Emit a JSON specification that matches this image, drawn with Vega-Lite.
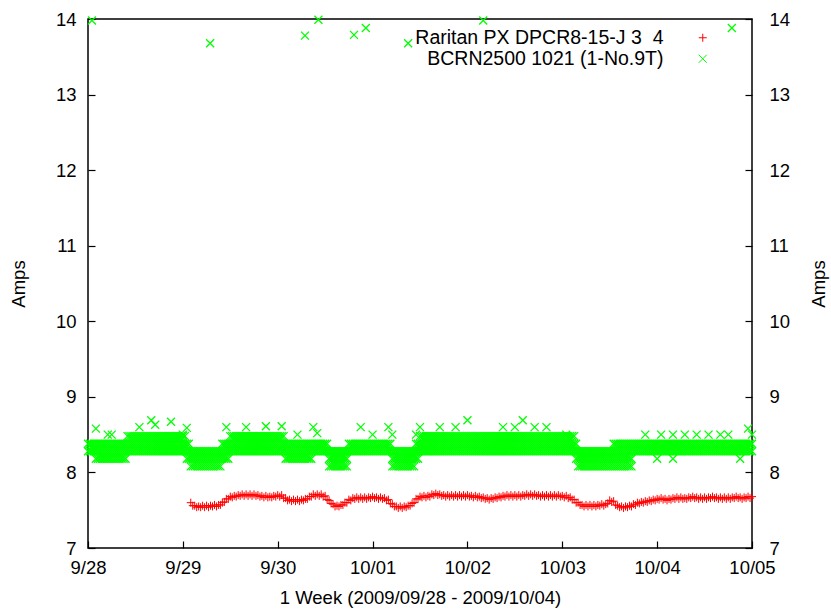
{
"$schema":"https://vega.github.io/schema/vega-lite/v6.json",
"width":664,"height":529,
"autosize":{"type":"none"},
"padding":{"left":88,"top":19,"right":79,"bottom":62},
"background":"#ffffff",
"config":{
 "font":"Liberation Sans",
 "view":{"stroke":"#000000","strokeWidth":1.5},
 "axis":{"domain":false,"grid":false,"labelFont":"Liberation Sans","labelFontSize":18.5,"labelColor":"#000000","tickColor":"#000000","tickSize":-7,"tickWidth":1.2,"titleFont":"Liberation Sans","titleFontSize":18.5,"titleFontWeight":"normal","titleColor":"#000000","labelFlush":false,"labelOverlap":false},
 "legend":{"orient":"none","legendX":605,"legendY":9,"labelAlign":"right","labelOffset":-49,"labelFont":"Liberation Sans","labelFontSize":19.5,"labelColor":"#000000","symbolSize":64,"symbolStrokeWidth":1,"rowPadding":0,"labelLimit":400,"padding":0,"title":null}
},
"datasets":{
"r":[
{"h":26,"a":7.60},{"h":27,"a":7.56},{"h":28,"a":7.55},{"h":29,"a":7.56},{"h":30,"a":7.56},{"h":31,"a":7.56},{"h":32,"a":7.57},{"h":33,"a":7.57},{"h":34,"a":7.60},{"h":35,"a":7.65},
{"h":36,"a":7.68},{"h":37,"a":7.69},{"h":38,"a":7.70},{"h":39,"a":7.71},{"h":40,"a":7.71},{"h":41,"a":7.71},{"h":42,"a":7.71},{"h":43,"a":7.70},{"h":44,"a":7.69},{"h":45,"a":7.69},
{"h":46,"a":7.68},{"h":47,"a":7.69},{"h":48,"a":7.70},{"h":49,"a":7.70},{"h":50,"a":7.66},{"h":51,"a":7.64},{"h":52,"a":7.64},{"h":53,"a":7.64},{"h":54,"a":7.64},{"h":55,"a":7.65},
{"h":56,"a":7.68},{"h":57,"a":7.71},{"h":58,"a":7.71},{"h":59,"a":7.71},{"h":60,"a":7.69},{"h":61,"a":7.63},{"h":62,"a":7.58},{"h":63,"a":7.56},{"h":64,"a":7.57},{"h":65,"a":7.60},
{"h":66,"a":7.64},{"h":67,"a":7.66},{"h":68,"a":7.67},{"h":69,"a":7.67},{"h":70,"a":7.67},{"h":71,"a":7.67},{"h":72,"a":7.68},{"h":73,"a":7.67},{"h":74,"a":7.67},{"h":75,"a":7.66},
{"h":76,"a":7.64},{"h":77,"a":7.58},{"h":78,"a":7.55},{"h":79,"a":7.55},{"h":80,"a":7.55},{"h":81,"a":7.56},{"h":82,"a":7.59},{"h":83,"a":7.65},{"h":84,"a":7.68},{"h":85,"a":7.69},
{"h":86,"a":7.69},{"h":87,"a":7.71},{"h":88,"a":7.72},{"h":89,"a":7.71},{"h":90,"a":7.70},{"h":91,"a":7.70},{"h":92,"a":7.70},{"h":93,"a":7.70},{"h":94,"a":7.70},{"h":95,"a":7.70},
{"h":96,"a":7.70},{"h":97,"a":7.69},{"h":98,"a":7.69},{"h":99,"a":7.68},{"h":100,"a":7.67},{"h":101,"a":7.66},{"h":102,"a":7.66},{"h":103,"a":7.67},{"h":104,"a":7.68},{"h":105,"a":7.69},
{"h":106,"a":7.70},{"h":107,"a":7.70},{"h":108,"a":7.70},{"h":109,"a":7.70},{"h":110,"a":7.70},{"h":111,"a":7.71},{"h":112,"a":7.71},{"h":113,"a":7.71},{"h":114,"a":7.70},{"h":115,"a":7.70},
{"h":116,"a":7.70},{"h":117,"a":7.70},{"h":118,"a":7.70},{"h":119,"a":7.70},{"h":120,"a":7.69},{"h":121,"a":7.69},{"h":122,"a":7.67},{"h":123,"a":7.64},{"h":124,"a":7.60},{"h":125,"a":7.57},
{"h":126,"a":7.57},{"h":127,"a":7.57},{"h":128,"a":7.57},{"h":129,"a":7.57},{"h":130,"a":7.58},{"h":131,"a":7.58},{"h":132,"a":7.63},{"h":133,"a":7.62},{"h":134,"a":7.56},{"h":135,"a":7.55},
{"h":136,"a":7.55},{"h":137,"a":7.56},{"h":138,"a":7.58},{"h":139,"a":7.60},{"h":140,"a":7.61},{"h":141,"a":7.62},{"h":142,"a":7.63},{"h":143,"a":7.64},{"h":144,"a":7.65},{"h":145,"a":7.66},
{"h":146,"a":7.65},{"h":147,"a":7.65},{"h":148,"a":7.66},{"h":149,"a":7.67},{"h":150,"a":7.67},{"h":151,"a":7.66},{"h":152,"a":7.67},{"h":153,"a":7.68},{"h":154,"a":7.67},{"h":155,"a":7.67},
{"h":156,"a":7.67},{"h":157,"a":7.67},{"h":158,"a":7.68},{"h":159,"a":7.67},{"h":160,"a":7.67},{"h":161,"a":7.67},{"h":162,"a":7.67},{"h":163,"a":7.67},{"h":164,"a":7.68},{"h":165,"a":7.67},
{"h":166,"a":7.67},{"h":167,"a":7.68},{"h":168,"a":7.68},
{"h":26.5,"a":7.56},{"h":27.5,"a":7.54},{"h":28.5,"a":7.54},{"h":29.5,"a":7.54},{"h":30.5,"a":7.54},{"h":31.5,"a":7.55},{"h":32.5,"a":7.55},{"h":33.5,"a":7.57},{"h":34.5,"a":7.61},{"h":35.5,"a":7.65},
{"h":36.5,"a":7.67},{"h":37.5,"a":7.68},{"h":38.5,"a":7.69},{"h":39.5,"a":7.69},{"h":40.5,"a":7.69},{"h":41.5,"a":7.69},{"h":42.5,"a":7.69},{"h":43.5,"a":7.68},{"h":44.5,"a":7.67},{"h":45.5,"a":7.67},
{"h":46.5,"a":7.67},{"h":47.5,"a":7.68},{"h":48.5,"a":7.68},{"h":49.5,"a":7.66},{"h":50.5,"a":7.63},{"h":51.5,"a":7.62},{"h":52.5,"a":7.62},{"h":53.5,"a":7.62},{"h":54.5,"a":7.63},{"h":55.5,"a":7.65},
{"h":56.5,"a":7.68},{"h":57.5,"a":7.69},{"h":58.5,"a":7.69},{"h":59.5,"a":7.68},{"h":60.5,"a":7.64},{"h":61.5,"a":7.59},{"h":62.5,"a":7.55},{"h":63.5,"a":7.55},{"h":64.5,"a":7.57},{"h":65.5,"a":7.60},
{"h":66.5,"a":7.63},{"h":67.5,"a":7.65},{"h":68.5,"a":7.65},{"h":69.5,"a":7.65},{"h":70.5,"a":7.65},{"h":71.5,"a":7.66},{"h":72.5,"a":7.66},{"h":73.5,"a":7.65},{"h":74.5,"a":7.65},{"h":75.5,"a":7.63},
{"h":76.5,"a":7.59},{"h":77.5,"a":7.55},{"h":78.5,"a":7.53},{"h":79.5,"a":7.53},{"h":80.5,"a":7.54},{"h":81.5,"a":7.56},{"h":82.5,"a":7.60},{"h":83.5,"a":7.65},{"h":84.5,"a":7.67},{"h":85.5,"a":7.67},
{"h":86.5,"a":7.68},{"h":87.5,"a":7.70},{"h":88.5,"a":7.70},{"h":89.5,"a":7.69},{"h":90.5,"a":7.68},{"h":91.5,"a":7.68},{"h":92.5,"a":7.68},{"h":93.5,"a":7.68},{"h":94.5,"a":7.68},{"h":95.5,"a":7.68},
{"h":96.5,"a":7.68},{"h":97.5,"a":7.67},{"h":98.5,"a":7.67},{"h":99.5,"a":7.66},{"h":100.5,"a":7.65},{"h":101.5,"a":7.64},{"h":102.5,"a":7.65},{"h":103.5,"a":7.66},{"h":104.5,"a":7.67},{"h":105.5,"a":7.68},
{"h":106.5,"a":7.68},{"h":107.5,"a":7.68},{"h":108.5,"a":7.68},{"h":109.5,"a":7.68},{"h":110.5,"a":7.69},{"h":111.5,"a":7.69},{"h":112.5,"a":7.69},{"h":113.5,"a":7.69},{"h":114.5,"a":7.68},{"h":115.5,"a":7.68},
{"h":116.5,"a":7.68},{"h":117.5,"a":7.68},{"h":118.5,"a":7.68},{"h":119.5,"a":7.68},{"h":120.5,"a":7.67},{"h":121.5,"a":7.66},{"h":122.5,"a":7.64},{"h":123.5,"a":7.60},{"h":124.5,"a":7.57},{"h":125.5,"a":7.55},
{"h":126.5,"a":7.55},{"h":127.5,"a":7.55},{"h":128.5,"a":7.55},{"h":129.5,"a":7.56},{"h":130.5,"a":7.56},{"h":131.5,"a":7.59},{"h":132.5,"a":7.61},{"h":133.5,"a":7.57},{"h":134.5,"a":7.54},{"h":135.5,"a":7.53},
{"h":136.5,"a":7.54},{"h":137.5,"a":7.55},{"h":138.5,"a":7.57},{"h":139.5,"a":7.59},{"h":140.5,"a":7.60},{"h":141.5,"a":7.61},{"h":142.5,"a":7.62},{"h":143.5,"a":7.63},{"h":144.5,"a":7.64},{"h":145.5,"a":7.64},
{"h":146.5,"a":7.63},{"h":147.5,"a":7.64},{"h":148.5,"a":7.65},{"h":149.5,"a":7.65},{"h":150.5,"a":7.65},{"h":151.5,"a":7.65},{"h":152.5,"a":7.66},{"h":153.5,"a":7.66},{"h":154.5,"a":7.65},{"h":155.5,"a":7.65},
{"h":156.5,"a":7.65},{"h":157.5,"a":7.66},{"h":158.5,"a":7.66},{"h":159.5,"a":7.65},{"h":160.5,"a":7.65},{"h":161.5,"a":7.65},{"h":162.5,"a":7.65},{"h":163.5,"a":7.66},{"h":164.5,"a":7.66},{"h":165.5,"a":7.65},
{"h":166.5,"a":7.66},{"h":167.5,"a":7.66}
],
"g":[
{"h":0,"a":8.28},{"h":0,"a":8.38},{"h":0.5,"a":8.28},{"h":0.5,"a":8.38},{"h":1,"a":8.28},{"h":1,"a":8.38},{"h":1.5,"a":8.28},{"h":1.5,"a":8.38},
{"h":2,"a":8.18},{"h":2,"a":8.28},{"h":2,"a":8.38},{"h":2.5,"a":8.18},{"h":2.5,"a":8.28},{"h":2.5,"a":8.38},{"h":3,"a":8.18},{"h":3,"a":8.28},{"h":3,"a":8.38},{"h":3.5,"a":8.18},{"h":3.5,"a":8.28},{"h":3.5,"a":8.38},
{"h":4,"a":8.18},{"h":4,"a":8.28},{"h":4,"a":8.38},{"h":4.5,"a":8.18},{"h":4.5,"a":8.28},{"h":4.5,"a":8.38},{"h":5,"a":8.18},{"h":5,"a":8.28},{"h":5,"a":8.38},{"h":5.5,"a":8.18},{"h":5.5,"a":8.28},{"h":5.5,"a":8.38},
{"h":6,"a":8.18},{"h":6,"a":8.28},{"h":6,"a":8.38},{"h":6.5,"a":8.18},{"h":6.5,"a":8.28},{"h":6.5,"a":8.38},{"h":7,"a":8.18},{"h":7,"a":8.28},{"h":7,"a":8.38},{"h":7.5,"a":8.18},{"h":7.5,"a":8.28},{"h":7.5,"a":8.38},
{"h":8,"a":8.18},{"h":8,"a":8.28},{"h":8,"a":8.38},{"h":8.5,"a":8.18},{"h":8.5,"a":8.28},{"h":8.5,"a":8.38},{"h":9,"a":8.18},{"h":9,"a":8.28},{"h":9,"a":8.38},{"h":9.5,"a":8.18},{"h":9.5,"a":8.28},{"h":9.5,"a":8.38},
{"h":10,"a":8.28},{"h":10,"a":8.38},{"h":10,"a":8.48},{"h":10.5,"a":8.28},{"h":10.5,"a":8.38},{"h":10.5,"a":8.48},{"h":11,"a":8.28},{"h":11,"a":8.38},{"h":11,"a":8.48},{"h":11.5,"a":8.28},{"h":11.5,"a":8.38},{"h":11.5,"a":8.48},
{"h":12,"a":8.28},{"h":12,"a":8.38},{"h":12,"a":8.48},{"h":12.5,"a":8.28},{"h":12.5,"a":8.38},{"h":12.5,"a":8.48},{"h":13,"a":8.28},{"h":13,"a":8.38},{"h":13,"a":8.48},{"h":13.5,"a":8.28},{"h":13.5,"a":8.38},{"h":13.5,"a":8.48},
{"h":14,"a":8.28},{"h":14,"a":8.38},{"h":14,"a":8.48},{"h":14.5,"a":8.28},{"h":14.5,"a":8.38},{"h":14.5,"a":8.48},{"h":15,"a":8.28},{"h":15,"a":8.38},{"h":15,"a":8.48},{"h":15.5,"a":8.28},{"h":15.5,"a":8.38},{"h":15.5,"a":8.48},
{"h":16,"a":8.28},{"h":16,"a":8.38},{"h":16,"a":8.48},{"h":16.5,"a":8.28},{"h":16.5,"a":8.38},{"h":16.5,"a":8.48},{"h":17,"a":8.28},{"h":17,"a":8.38},{"h":17,"a":8.48},{"h":17.5,"a":8.28},{"h":17.5,"a":8.38},{"h":17.5,"a":8.48},
{"h":18,"a":8.28},{"h":18,"a":8.38},{"h":18,"a":8.48},{"h":18.5,"a":8.28},{"h":18.5,"a":8.38},{"h":18.5,"a":8.48},{"h":19,"a":8.28},{"h":19,"a":8.38},{"h":19,"a":8.48},{"h":19.5,"a":8.28},{"h":19.5,"a":8.38},{"h":19.5,"a":8.48},
{"h":20,"a":8.28},{"h":20,"a":8.38},{"h":20,"a":8.48},{"h":20.5,"a":8.28},{"h":20.5,"a":8.38},{"h":20.5,"a":8.48},{"h":21,"a":8.28},{"h":21,"a":8.38},{"h":21,"a":8.48},{"h":21.5,"a":8.28},{"h":21.5,"a":8.38},{"h":21.5,"a":8.48},
{"h":22,"a":8.28},{"h":22,"a":8.38},{"h":22,"a":8.48},{"h":22.5,"a":8.28},{"h":22.5,"a":8.38},{"h":22.5,"a":8.48},{"h":23,"a":8.28},{"h":23,"a":8.38},{"h":23,"a":8.48},{"h":23.5,"a":8.28},{"h":23.5,"a":8.38},{"h":23.5,"a":8.48},
{"h":24,"a":8.28},{"h":24,"a":8.38},{"h":24,"a":8.48},{"h":24.5,"a":8.28},{"h":24.5,"a":8.38},{"h":24.5,"a":8.48},
{"h":25,"a":8.18},{"h":25,"a":8.28},{"h":25,"a":8.38},{"h":25.5,"a":8.18},{"h":25.5,"a":8.28},{"h":25.5,"a":8.38},
{"h":26,"a":8.08},{"h":26,"a":8.18},{"h":26,"a":8.28},{"h":26.5,"a":8.08},{"h":26.5,"a":8.18},{"h":26.5,"a":8.28},{"h":27,"a":8.08},{"h":27,"a":8.18},{"h":27,"a":8.28},{"h":27.5,"a":8.08},{"h":27.5,"a":8.18},{"h":27.5,"a":8.28},
{"h":28,"a":8.08},{"h":28,"a":8.18},{"h":28,"a":8.28},{"h":28.5,"a":8.08},{"h":28.5,"a":8.18},{"h":28.5,"a":8.28},{"h":29,"a":8.08},{"h":29,"a":8.18},{"h":29,"a":8.28},{"h":29.5,"a":8.08},{"h":29.5,"a":8.18},{"h":29.5,"a":8.28},
{"h":30,"a":8.08},{"h":30,"a":8.18},{"h":30,"a":8.28},{"h":30.5,"a":8.08},{"h":30.5,"a":8.18},{"h":30.5,"a":8.28},{"h":31,"a":8.08},{"h":31,"a":8.18},{"h":31,"a":8.28},{"h":31.5,"a":8.08},{"h":31.5,"a":8.18},{"h":31.5,"a":8.28},
{"h":32,"a":8.08},{"h":32,"a":8.18},{"h":32,"a":8.28},{"h":32.5,"a":8.08},{"h":32.5,"a":8.18},{"h":32.5,"a":8.28},{"h":33,"a":8.08},{"h":33,"a":8.18},{"h":33,"a":8.28},{"h":33.5,"a":8.08},{"h":33.5,"a":8.18},{"h":33.5,"a":8.28},
{"h":34,"a":8.18},{"h":34,"a":8.28},{"h":34,"a":8.38},{"h":34.5,"a":8.18},{"h":34.5,"a":8.28},{"h":34.5,"a":8.38},{"h":35,"a":8.18},{"h":35,"a":8.28},{"h":35,"a":8.38},{"h":35.5,"a":8.18},{"h":35.5,"a":8.28},{"h":35.5,"a":8.38},
{"h":36,"a":8.28},{"h":36,"a":8.38},{"h":36,"a":8.48},{"h":36.5,"a":8.28},{"h":36.5,"a":8.38},{"h":36.5,"a":8.48},{"h":37,"a":8.28},{"h":37,"a":8.38},{"h":37,"a":8.48},{"h":37.5,"a":8.28},{"h":37.5,"a":8.38},{"h":37.5,"a":8.48},
{"h":38,"a":8.28},{"h":38,"a":8.38},{"h":38,"a":8.48},{"h":38.5,"a":8.28},{"h":38.5,"a":8.38},{"h":38.5,"a":8.48},{"h":39,"a":8.28},{"h":39,"a":8.38},{"h":39,"a":8.48},{"h":39.5,"a":8.28},{"h":39.5,"a":8.38},{"h":39.5,"a":8.48},
{"h":40,"a":8.28},{"h":40,"a":8.38},{"h":40,"a":8.48},{"h":40.5,"a":8.28},{"h":40.5,"a":8.38},{"h":40.5,"a":8.48},{"h":41,"a":8.28},{"h":41,"a":8.38},{"h":41,"a":8.48},{"h":41.5,"a":8.28},{"h":41.5,"a":8.38},{"h":41.5,"a":8.48},
{"h":42,"a":8.28},{"h":42,"a":8.38},{"h":42,"a":8.48},{"h":42.5,"a":8.28},{"h":42.5,"a":8.38},{"h":42.5,"a":8.48},{"h":43,"a":8.28},{"h":43,"a":8.38},{"h":43,"a":8.48},{"h":43.5,"a":8.28},{"h":43.5,"a":8.38},{"h":43.5,"a":8.48},
{"h":44,"a":8.28},{"h":44,"a":8.38},{"h":44,"a":8.48},{"h":44.5,"a":8.28},{"h":44.5,"a":8.38},{"h":44.5,"a":8.48},{"h":45,"a":8.28},{"h":45,"a":8.38},{"h":45,"a":8.48},{"h":45.5,"a":8.28},{"h":45.5,"a":8.38},{"h":45.5,"a":8.48},
{"h":46,"a":8.28},{"h":46,"a":8.38},{"h":46,"a":8.48},{"h":46.5,"a":8.28},{"h":46.5,"a":8.38},{"h":46.5,"a":8.48},{"h":47,"a":8.28},{"h":47,"a":8.38},{"h":47,"a":8.48},{"h":47.5,"a":8.28},{"h":47.5,"a":8.38},{"h":47.5,"a":8.48},
{"h":48,"a":8.28},{"h":48,"a":8.38},{"h":48,"a":8.48},{"h":48.5,"a":8.28},{"h":48.5,"a":8.38},{"h":48.5,"a":8.48},{"h":49,"a":8.28},{"h":49,"a":8.38},{"h":49,"a":8.48},{"h":49.5,"a":8.28},{"h":49.5,"a":8.38},{"h":49.5,"a":8.48},
{"h":50,"a":8.18},{"h":50,"a":8.28},{"h":50,"a":8.38},{"h":50.5,"a":8.18},{"h":50.5,"a":8.28},{"h":50.5,"a":8.38},{"h":51,"a":8.18},{"h":51,"a":8.28},{"h":51,"a":8.38},{"h":51.5,"a":8.18},{"h":51.5,"a":8.28},{"h":51.5,"a":8.38},
{"h":52,"a":8.18},{"h":52,"a":8.28},{"h":52,"a":8.38},{"h":52.5,"a":8.18},{"h":52.5,"a":8.28},{"h":52.5,"a":8.38},{"h":53,"a":8.18},{"h":53,"a":8.28},{"h":53,"a":8.38},{"h":53.5,"a":8.18},{"h":53.5,"a":8.28},{"h":53.5,"a":8.38},
{"h":54,"a":8.18},{"h":54,"a":8.28},{"h":54,"a":8.38},{"h":54.5,"a":8.18},{"h":54.5,"a":8.28},{"h":54.5,"a":8.38},{"h":55,"a":8.18},{"h":55,"a":8.28},{"h":55,"a":8.38},{"h":55.5,"a":8.18},{"h":55.5,"a":8.28},{"h":55.5,"a":8.38},
{"h":56,"a":8.18},{"h":56,"a":8.28},{"h":56,"a":8.38},{"h":56.5,"a":8.18},{"h":56.5,"a":8.28},{"h":56.5,"a":8.38},
{"h":57,"a":8.28},{"h":57,"a":8.38},{"h":57.5,"a":8.28},{"h":57.5,"a":8.38},{"h":58,"a":8.28},{"h":58,"a":8.38},{"h":58.5,"a":8.28},{"h":58.5,"a":8.38},{"h":59,"a":8.28},{"h":59,"a":8.38},{"h":59.5,"a":8.28},{"h":59.5,"a":8.38},
{"h":60,"a":8.28},{"h":60,"a":8.38},{"h":60.5,"a":8.28},{"h":60.5,"a":8.38},
{"h":61,"a":8.08},{"h":61,"a":8.18},{"h":61,"a":8.28},{"h":61.5,"a":8.08},{"h":61.5,"a":8.18},{"h":61.5,"a":8.28},{"h":62,"a":8.08},{"h":62,"a":8.18},{"h":62,"a":8.28},{"h":62.5,"a":8.08},{"h":62.5,"a":8.18},{"h":62.5,"a":8.28},
{"h":63,"a":8.08},{"h":63,"a":8.18},{"h":63,"a":8.28},{"h":63.5,"a":8.08},{"h":63.5,"a":8.18},{"h":63.5,"a":8.28},{"h":64,"a":8.08},{"h":64,"a":8.18},{"h":64,"a":8.28},{"h":64.5,"a":8.08},{"h":64.5,"a":8.18},{"h":64.5,"a":8.28},
{"h":65,"a":8.08},{"h":65,"a":8.18},{"h":65,"a":8.28},{"h":65.5,"a":8.08},{"h":65.5,"a":8.18},{"h":65.5,"a":8.28},
{"h":66,"a":8.28},{"h":66,"a":8.38},{"h":66.5,"a":8.28},{"h":66.5,"a":8.38},{"h":67,"a":8.28},{"h":67,"a":8.38},{"h":67.5,"a":8.28},{"h":67.5,"a":8.38},{"h":68,"a":8.28},{"h":68,"a":8.38},{"h":68.5,"a":8.28},{"h":68.5,"a":8.38},
{"h":69,"a":8.28},{"h":69,"a":8.38},{"h":69.5,"a":8.28},{"h":69.5,"a":8.38},{"h":70,"a":8.28},{"h":70,"a":8.38},{"h":70.5,"a":8.28},{"h":70.5,"a":8.38},{"h":71,"a":8.28},{"h":71,"a":8.38},{"h":71.5,"a":8.28},{"h":71.5,"a":8.38},
{"h":72,"a":8.28},{"h":72,"a":8.38},{"h":72.5,"a":8.28},{"h":72.5,"a":8.38},{"h":73,"a":8.28},{"h":73,"a":8.38},{"h":73.5,"a":8.28},{"h":73.5,"a":8.38},{"h":74,"a":8.28},{"h":74,"a":8.38},{"h":74.5,"a":8.28},{"h":74.5,"a":8.38},
{"h":75,"a":8.28},{"h":75,"a":8.38},{"h":75.5,"a":8.28},{"h":75.5,"a":8.38},{"h":76,"a":8.28},{"h":76,"a":8.38},{"h":76.5,"a":8.28},{"h":76.5,"a":8.38},
{"h":77,"a":8.08},{"h":77,"a":8.18},{"h":77,"a":8.28},{"h":77.5,"a":8.08},{"h":77.5,"a":8.18},{"h":77.5,"a":8.28},{"h":78,"a":8.08},{"h":78,"a":8.18},{"h":78,"a":8.28},{"h":78.5,"a":8.08},{"h":78.5,"a":8.18},{"h":78.5,"a":8.28},
{"h":79,"a":8.08},{"h":79,"a":8.18},{"h":79,"a":8.28},{"h":79.5,"a":8.08},{"h":79.5,"a":8.18},{"h":79.5,"a":8.28},{"h":80,"a":8.08},{"h":80,"a":8.18},{"h":80,"a":8.28},{"h":80.5,"a":8.08},{"h":80.5,"a":8.18},{"h":80.5,"a":8.28},
{"h":81,"a":8.08},{"h":81,"a":8.18},{"h":81,"a":8.28},{"h":81.5,"a":8.08},{"h":81.5,"a":8.18},{"h":81.5,"a":8.28},{"h":82,"a":8.08},{"h":82,"a":8.18},{"h":82,"a":8.28},{"h":82.5,"a":8.08},{"h":82.5,"a":8.18},{"h":82.5,"a":8.28},
{"h":83,"a":8.18},{"h":83,"a":8.28},{"h":83,"a":8.38},{"h":83.5,"a":8.18},{"h":83.5,"a":8.28},{"h":83.5,"a":8.38},
{"h":84,"a":8.28},{"h":84,"a":8.38},{"h":84,"a":8.48},{"h":84.5,"a":8.28},{"h":84.5,"a":8.38},{"h":84.5,"a":8.48},{"h":85,"a":8.28},{"h":85,"a":8.38},{"h":85,"a":8.48},{"h":85.5,"a":8.28},{"h":85.5,"a":8.38},{"h":85.5,"a":8.48},
{"h":86,"a":8.28},{"h":86,"a":8.38},{"h":86,"a":8.48},{"h":86.5,"a":8.28},{"h":86.5,"a":8.38},{"h":86.5,"a":8.48},{"h":87,"a":8.28},{"h":87,"a":8.38},{"h":87,"a":8.48},{"h":87.5,"a":8.28},{"h":87.5,"a":8.38},{"h":87.5,"a":8.48},
{"h":88,"a":8.28},{"h":88,"a":8.38},{"h":88,"a":8.48},{"h":88.5,"a":8.28},{"h":88.5,"a":8.38},{"h":88.5,"a":8.48},{"h":89,"a":8.28},{"h":89,"a":8.38},{"h":89,"a":8.48},{"h":89.5,"a":8.28},{"h":89.5,"a":8.38},{"h":89.5,"a":8.48},
{"h":90,"a":8.28},{"h":90,"a":8.38},{"h":90,"a":8.48},{"h":90.5,"a":8.28},{"h":90.5,"a":8.38},{"h":90.5,"a":8.48},{"h":91,"a":8.28},{"h":91,"a":8.38},{"h":91,"a":8.48},{"h":91.5,"a":8.28},{"h":91.5,"a":8.38},{"h":91.5,"a":8.48},
{"h":92,"a":8.28},{"h":92,"a":8.38},{"h":92,"a":8.48},{"h":92.5,"a":8.28},{"h":92.5,"a":8.38},{"h":92.5,"a":8.48},{"h":93,"a":8.28},{"h":93,"a":8.38},{"h":93,"a":8.48},{"h":93.5,"a":8.28},{"h":93.5,"a":8.38},{"h":93.5,"a":8.48},
{"h":94,"a":8.28},{"h":94,"a":8.38},{"h":94,"a":8.48},{"h":94.5,"a":8.28},{"h":94.5,"a":8.38},{"h":94.5,"a":8.48},{"h":95,"a":8.28},{"h":95,"a":8.38},{"h":95,"a":8.48},{"h":95.5,"a":8.28},{"h":95.5,"a":8.38},{"h":95.5,"a":8.48},
{"h":96,"a":8.28},{"h":96,"a":8.38},{"h":96,"a":8.48},{"h":96.5,"a":8.28},{"h":96.5,"a":8.38},{"h":96.5,"a":8.48},{"h":97,"a":8.28},{"h":97,"a":8.38},{"h":97,"a":8.48},{"h":97.5,"a":8.28},{"h":97.5,"a":8.38},{"h":97.5,"a":8.48},
{"h":98,"a":8.28},{"h":98,"a":8.38},{"h":98,"a":8.48},{"h":98.5,"a":8.28},{"h":98.5,"a":8.38},{"h":98.5,"a":8.48},{"h":99,"a":8.28},{"h":99,"a":8.38},{"h":99,"a":8.48},{"h":99.5,"a":8.28},{"h":99.5,"a":8.38},{"h":99.5,"a":8.48},
{"h":100,"a":8.28},{"h":100,"a":8.38},{"h":100,"a":8.48},{"h":100.5,"a":8.28},{"h":100.5,"a":8.38},{"h":100.5,"a":8.48},{"h":101,"a":8.28},{"h":101,"a":8.38},{"h":101,"a":8.48},{"h":101.5,"a":8.28},{"h":101.5,"a":8.38},{"h":101.5,"a":8.48},
{"h":102,"a":8.28},{"h":102,"a":8.38},{"h":102,"a":8.48},{"h":102.5,"a":8.28},{"h":102.5,"a":8.38},{"h":102.5,"a":8.48},{"h":103,"a":8.28},{"h":103,"a":8.38},{"h":103,"a":8.48},{"h":103.5,"a":8.28},{"h":103.5,"a":8.38},{"h":103.5,"a":8.48},
{"h":104,"a":8.28},{"h":104,"a":8.38},{"h":104,"a":8.48},{"h":104.5,"a":8.28},{"h":104.5,"a":8.38},{"h":104.5,"a":8.48},{"h":105,"a":8.28},{"h":105,"a":8.38},{"h":105,"a":8.48},{"h":105.5,"a":8.28},{"h":105.5,"a":8.38},{"h":105.5,"a":8.48},
{"h":106,"a":8.28},{"h":106,"a":8.38},{"h":106,"a":8.48},{"h":106.5,"a":8.28},{"h":106.5,"a":8.38},{"h":106.5,"a":8.48},{"h":107,"a":8.28},{"h":107,"a":8.38},{"h":107,"a":8.48},{"h":107.5,"a":8.28},{"h":107.5,"a":8.38},{"h":107.5,"a":8.48},
{"h":108,"a":8.28},{"h":108,"a":8.38},{"h":108,"a":8.48},{"h":108.5,"a":8.28},{"h":108.5,"a":8.38},{"h":108.5,"a":8.48},{"h":109,"a":8.28},{"h":109,"a":8.38},{"h":109,"a":8.48},{"h":109.5,"a":8.28},{"h":109.5,"a":8.38},{"h":109.5,"a":8.48},
{"h":110,"a":8.28},{"h":110,"a":8.38},{"h":110,"a":8.48},{"h":110.5,"a":8.28},{"h":110.5,"a":8.38},{"h":110.5,"a":8.48},{"h":111,"a":8.28},{"h":111,"a":8.38},{"h":111,"a":8.48},{"h":111.5,"a":8.28},{"h":111.5,"a":8.38},{"h":111.5,"a":8.48},
{"h":112,"a":8.28},{"h":112,"a":8.38},{"h":112,"a":8.48},{"h":112.5,"a":8.28},{"h":112.5,"a":8.38},{"h":112.5,"a":8.48},{"h":113,"a":8.28},{"h":113,"a":8.38},{"h":113,"a":8.48},{"h":113.5,"a":8.28},{"h":113.5,"a":8.38},{"h":113.5,"a":8.48},
{"h":114,"a":8.28},{"h":114,"a":8.38},{"h":114,"a":8.48},{"h":114.5,"a":8.28},{"h":114.5,"a":8.38},{"h":114.5,"a":8.48},{"h":115,"a":8.28},{"h":115,"a":8.38},{"h":115,"a":8.48},{"h":115.5,"a":8.28},{"h":115.5,"a":8.38},{"h":115.5,"a":8.48},
{"h":116,"a":8.28},{"h":116,"a":8.38},{"h":116,"a":8.48},{"h":116.5,"a":8.28},{"h":116.5,"a":8.38},{"h":116.5,"a":8.48},{"h":117,"a":8.28},{"h":117,"a":8.38},{"h":117,"a":8.48},{"h":117.5,"a":8.28},{"h":117.5,"a":8.38},{"h":117.5,"a":8.48},
{"h":118,"a":8.28},{"h":118,"a":8.38},{"h":118,"a":8.48},{"h":118.5,"a":8.28},{"h":118.5,"a":8.38},{"h":118.5,"a":8.48},{"h":119,"a":8.28},{"h":119,"a":8.38},{"h":119,"a":8.48},{"h":119.5,"a":8.28},{"h":119.5,"a":8.38},{"h":119.5,"a":8.48},
{"h":120,"a":8.28},{"h":120,"a":8.38},{"h":120,"a":8.48},{"h":120.5,"a":8.28},{"h":120.5,"a":8.38},{"h":120.5,"a":8.48},{"h":121,"a":8.28},{"h":121,"a":8.38},{"h":121,"a":8.48},{"h":121.5,"a":8.28},{"h":121.5,"a":8.38},{"h":121.5,"a":8.48},
{"h":122,"a":8.28},{"h":122,"a":8.38},{"h":122,"a":8.48},{"h":122.5,"a":8.28},{"h":122.5,"a":8.38},{"h":122.5,"a":8.48},{"h":123,"a":8.28},{"h":123,"a":8.38},{"h":123,"a":8.48},{"h":123.5,"a":8.18},{"h":123.5,"a":8.28},{"h":123.5,"a":8.38},
{"h":124,"a":8.08},{"h":124,"a":8.18},{"h":124,"a":8.28},{"h":124.5,"a":8.08},{"h":124.5,"a":8.18},{"h":124.5,"a":8.28},{"h":125,"a":8.08},{"h":125,"a":8.18},{"h":125,"a":8.28},{"h":125.5,"a":8.08},{"h":125.5,"a":8.18},{"h":125.5,"a":8.28},
{"h":126,"a":8.08},{"h":126,"a":8.18},{"h":126,"a":8.28},{"h":126.5,"a":8.08},{"h":126.5,"a":8.18},{"h":126.5,"a":8.28},{"h":127,"a":8.08},{"h":127,"a":8.18},{"h":127,"a":8.28},{"h":127.5,"a":8.08},{"h":127.5,"a":8.18},{"h":127.5,"a":8.28},
{"h":128,"a":8.08},{"h":128,"a":8.18},{"h":128,"a":8.28},{"h":128.5,"a":8.08},{"h":128.5,"a":8.18},{"h":128.5,"a":8.28},{"h":129,"a":8.08},{"h":129,"a":8.18},{"h":129,"a":8.28},{"h":129.5,"a":8.08},{"h":129.5,"a":8.18},{"h":129.5,"a":8.28},
{"h":130,"a":8.08},{"h":130,"a":8.18},{"h":130,"a":8.28},{"h":130.5,"a":8.08},{"h":130.5,"a":8.18},{"h":130.5,"a":8.28},{"h":131,"a":8.08},{"h":131,"a":8.18},{"h":131,"a":8.28},{"h":131.5,"a":8.08},{"h":131.5,"a":8.18},{"h":131.5,"a":8.28},
{"h":132,"a":8.08},{"h":132,"a":8.18},{"h":132,"a":8.28},{"h":132.5,"a":8.08},{"h":132.5,"a":8.18},{"h":132.5,"a":8.28},
{"h":133,"a":8.08},{"h":133,"a":8.18},{"h":133,"a":8.28},{"h":133,"a":8.38},{"h":133.5,"a":8.08},{"h":133.5,"a":8.18},{"h":133.5,"a":8.28},{"h":133.5,"a":8.38},
{"h":134,"a":8.08},{"h":134,"a":8.18},{"h":134,"a":8.28},{"h":134,"a":8.38},{"h":134.5,"a":8.08},{"h":134.5,"a":8.18},{"h":134.5,"a":8.28},{"h":134.5,"a":8.38},
{"h":135,"a":8.08},{"h":135,"a":8.18},{"h":135,"a":8.28},{"h":135,"a":8.38},{"h":135.5,"a":8.08},{"h":135.5,"a":8.18},{"h":135.5,"a":8.28},{"h":135.5,"a":8.38},
{"h":136,"a":8.08},{"h":136,"a":8.18},{"h":136,"a":8.28},{"h":136,"a":8.38},{"h":136.5,"a":8.08},{"h":136.5,"a":8.18},{"h":136.5,"a":8.28},{"h":136.5,"a":8.38},
{"h":137,"a":8.08},{"h":137,"a":8.18},{"h":137,"a":8.28},{"h":137,"a":8.38},{"h":137.5,"a":8.08},{"h":137.5,"a":8.18},{"h":137.5,"a":8.28},{"h":137.5,"a":8.38},
{"h":138,"a":8.28},{"h":138,"a":8.38},{"h":138.5,"a":8.28},{"h":138.5,"a":8.38},{"h":139,"a":8.28},{"h":139,"a":8.38},{"h":139.5,"a":8.28},{"h":139.5,"a":8.38},{"h":140,"a":8.28},{"h":140,"a":8.38},{"h":140.5,"a":8.28},{"h":140.5,"a":8.38},
{"h":141,"a":8.28},{"h":141,"a":8.38},{"h":141.5,"a":8.28},{"h":141.5,"a":8.38},{"h":142,"a":8.28},{"h":142,"a":8.38},{"h":142.5,"a":8.28},{"h":142.5,"a":8.38},{"h":143,"a":8.28},{"h":143,"a":8.38},{"h":143.5,"a":8.28},{"h":143.5,"a":8.38},
{"h":144,"a":8.28},{"h":144,"a":8.38},{"h":144.5,"a":8.28},{"h":144.5,"a":8.38},{"h":145,"a":8.28},{"h":145,"a":8.38},{"h":145.5,"a":8.28},{"h":145.5,"a":8.38},{"h":146,"a":8.28},{"h":146,"a":8.38},{"h":146.5,"a":8.28},{"h":146.5,"a":8.38},
{"h":147,"a":8.28},{"h":147,"a":8.38},{"h":147.5,"a":8.28},{"h":147.5,"a":8.38},{"h":148,"a":8.28},{"h":148,"a":8.38},{"h":148.5,"a":8.28},{"h":148.5,"a":8.38},{"h":149,"a":8.28},{"h":149,"a":8.38},{"h":149.5,"a":8.28},{"h":149.5,"a":8.38},
{"h":150,"a":8.28},{"h":150,"a":8.38},{"h":150.5,"a":8.28},{"h":150.5,"a":8.38},{"h":151,"a":8.28},{"h":151,"a":8.38},{"h":151.5,"a":8.28},{"h":151.5,"a":8.38},{"h":152,"a":8.28},{"h":152,"a":8.38},{"h":152.5,"a":8.28},{"h":152.5,"a":8.38},
{"h":153,"a":8.28},{"h":153,"a":8.38},{"h":153.5,"a":8.28},{"h":153.5,"a":8.38},{"h":154,"a":8.28},{"h":154,"a":8.38},{"h":154.5,"a":8.28},{"h":154.5,"a":8.38},{"h":155,"a":8.28},{"h":155,"a":8.38},{"h":155.5,"a":8.28},{"h":155.5,"a":8.38},
{"h":156,"a":8.28},{"h":156,"a":8.38},{"h":156.5,"a":8.28},{"h":156.5,"a":8.38},{"h":157,"a":8.28},{"h":157,"a":8.38},{"h":157.5,"a":8.28},{"h":157.5,"a":8.38},{"h":158,"a":8.28},{"h":158,"a":8.38},{"h":158.5,"a":8.28},{"h":158.5,"a":8.38},
{"h":159,"a":8.28},{"h":159,"a":8.38},{"h":159.5,"a":8.28},{"h":159.5,"a":8.38},{"h":160,"a":8.28},{"h":160,"a":8.38},{"h":160.5,"a":8.28},{"h":160.5,"a":8.38},{"h":161,"a":8.28},{"h":161,"a":8.38},{"h":161.5,"a":8.28},{"h":161.5,"a":8.38},
{"h":162,"a":8.28},{"h":162,"a":8.38},{"h":162.5,"a":8.28},{"h":162.5,"a":8.38},{"h":163,"a":8.28},{"h":163,"a":8.38},{"h":163.5,"a":8.28},{"h":163.5,"a":8.38},{"h":164,"a":8.28},{"h":164,"a":8.38},{"h":164.5,"a":8.28},{"h":164.5,"a":8.38},
{"h":165,"a":8.28},{"h":165,"a":8.38},{"h":165.5,"a":8.28},{"h":165.5,"a":8.38},{"h":166,"a":8.28},{"h":166,"a":8.38},{"h":166.5,"a":8.28},{"h":166.5,"a":8.38},{"h":167,"a":8.28},{"h":167,"a":8.38},{"h":167.5,"a":8.28},{"h":167.5,"a":8.38},
{"h":168,"a":8.28},{"h":168,"a":8.38},
{"h":2,"a":8.58},{"h":5,"a":8.5},{"h":6,"a":8.5},{"h":13,"a":8.6},{"h":16,"a":8.69},{"h":17,"a":8.63},{"h":21,"a":8.67},{"h":24,"a":8.5},{"h":25,"a":8.59},{"h":35,"a":8.6},{"h":40,"a":8.6},
{"h":45,"a":8.61},{"h":49,"a":8.61},{"h":53,"a":8.5},{"h":57,"a":8.6},{"h":58,"a":8.52},{"h":69,"a":8.6},{"h":72,"a":8.5},{"h":76,"a":8.6},{"h":77,"a":8.5},{"h":83,"a":8.5},
{"h":84,"a":8.6},{"h":89,"a":8.6},{"h":93,"a":8.6},{"h":96,"a":8.69},{"h":105,"a":8.6},{"h":108,"a":8.6},{"h":110,"a":8.69},{"h":113,"a":8.6},{"h":116,"a":8.6},{"h":121,"a":8.5},
{"h":141,"a":8.5},{"h":145,"a":8.5},{"h":148,"a":8.5},{"h":151,"a":8.5},{"h":154,"a":8.5},{"h":157,"a":8.5},{"h":160,"a":8.5},{"h":162,"a":8.5},{"h":144,"a":8.18},{"h":148,"a":8.18},{"h":165,"a":8.18},{"h":167,"a":8.58},{"h":168,"a":8.5},
{"h":1,"a":13.98},{"h":30.9,"a":13.68},{"h":54.9,"a":13.78},{"h":58.3,"a":13.99},{"h":67.3,"a":13.79},{"h":70.3,"a":13.88},{"h":81,"a":13.68},{"h":100,"a":13.98},{"h":162.9,"a":13.88}
]
},
"layer":[
{
 "data":{"name":"r"},
 "mark":{"type":"point","filled":false,"strokeWidth":1,"opacity":1,"size":64},
 "encoding":{
  "x":{"field":"h","type":"quantitative","scale":{"domain":[0,168],"nice":false,"zero":false},"axis":{"values":[0,24,48,72,96,120,144,168],"labelExpr":"['9/28','9/29','9/30','10/01','10/02','10/03','10/04','10/05'][datum.value/24]","title":"1 Week (2009/09/28 - 2009/10/04)","labelPadding":17,"titlePadding":12}},
  "y":{"field":"a","type":"quantitative","scale":{"domain":[7,14],"nice":false,"zero":false},"axis":{"orient":"left","values":[7,8,9,10,11,12,13,14],"title":"Amps","labelPadding":19,"titlePadding":27}},
  "color":{"datum":"Raritan PX DPCR8-15-J 3\u00a0 4","type":"nominal","scale":{"domain":["Raritan PX DPCR8-15-J 3\u00a0 4","BCRN2500 1021 (1-No.9T)"],"range":["#ff0000","#00ff00"]},"legend":{"title":null}},
  "shape":{"datum":"Raritan PX DPCR8-15-J 3\u00a0 4","type":"nominal","scale":{"domain":["Raritan PX DPCR8-15-J 3\u00a0 4","BCRN2500 1021 (1-No.9T)"],"range":["M-1,0L1,0M0,-1L0,1","M-1,-1L1,1M1,-1L-1,1"]},"legend":{"title":null}}
 }
},
{
 "data":{"name":"g"},
 "mark":{"type":"point","filled":false,"strokeWidth":1.3,"opacity":1,"size":64},
 "encoding":{
  "x":{"field":"h","type":"quantitative","scale":{"domain":[0,168],"nice":false,"zero":false},"axis":{"values":[0,24,48,72,96,120,144,168],"labelExpr":"['9/28','9/29','9/30','10/01','10/02','10/03','10/04','10/05'][datum.value/24]","title":"1 Week (2009/09/28 - 2009/10/04)","labelPadding":17,"titlePadding":12}},
  "y":{"field":"a","type":"quantitative","scale":{"domain":[7,14],"nice":false,"zero":false},"axis":{"orient":"right","values":[7,8,9,10,11,12,13,14],"title":"Amps","labelPadding":24,"titlePadding":39,"titleAngle":-90}},
  "color":{"datum":"BCRN2500 1021 (1-No.9T)","type":"nominal","legend":{"title":null}},
  "shape":{"datum":"BCRN2500 1021 (1-No.9T)","type":"nominal","legend":{"title":null}}
 }
}
],
"resolve":{"axis":{"y":"independent"}}
}
